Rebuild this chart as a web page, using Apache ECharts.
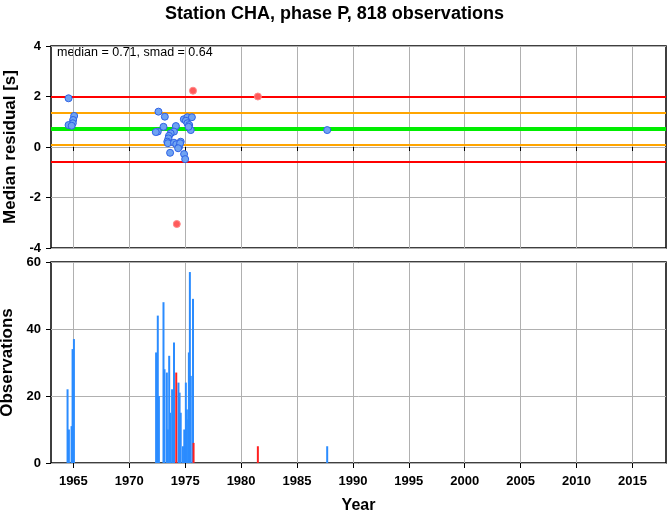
<!DOCTYPE html>
<html>
<head>
<meta charset="utf-8">
<script src="https://cdn.jsdelivr.net/npm/echarts@6/dist/echarts.min.js"></script>
<style>html,body{margin:0;padding:0;background:#fff}#c{width:669px;height:511px}</style>
</head>
<body>
<div id="c"></div>
<script>
var titleText = 'Station CHA, phase P, 818 observations';
var statsText = 'median = 0.71, smad = 0.64';
var xTicks = [1965,1970,1975,1980,1985,1990,1995,2000,2005,2010,2015];
var xMin = 1963, xMax = 2018;
var median = 0.71;
var smadLines = [1.35, 0.07];
var twoSmadLines = [1.99, -0.57];

var bluePoints = [
  [1964.57,1.93],[1965.07,1.23],[1964.98,1.07],[1964.95,0.94],[1964.57,0.87],[1964.85,0.84],
  [1972.61,1.40],[1973.18,1.20],[1972.55,0.61],[1972.37,0.59],[1973.06,0.80],[1974.17,0.83],
  [1974.0,0.61],[1973.7,0.54],[1973.55,0.44],[1973.5,0.34],[1973.4,0.21],[1973.45,0.15],
  [1974.0,0.17],[1974.2,0.11],[1974.46,0.01],[1974.6,0.21],[1974.55,0.15],[1974.37,-0.05],
  [1973.65,-0.23],[1974.9,-0.28],[1975.0,-0.48],[1974.88,1.10],[1975.2,1.18],[1975.6,1.18],
  [1975.06,1.04],[1975.2,0.94],[1975.36,0.87],[1975.5,0.67],[1975.3,0.80],[1987.7,0.67]
];
var redPoints = [[1975.7,2.23],[1974.25,-3.05],[1981.5,2.0]];

var blueBars = [
  [1964.48,22],[1964.6,10],[1964.84,11],[1964.93,34],[1965.05,37],
  [1972.4,33],[1972.55,44],[1972.65,20],[1973.06,48],[1973.15,28],[1973.36,27],[1973.45,10],
  [1973.57,32],[1973.65,15],[1973.83,22],[1974.0,36],[1974.4,24],[1974.5,21],[1974.6,15],
  [1974.8,5],[1974.92,10],[1975.06,24],[1975.15,16],[1975.27,13],[1975.33,33],[1975.42,57],
  [1975.5,26],[1975.7,49],[1987.7,5]
];
var redBars = [[1974.2,27],[1975.75,6],[1981.5,5]];

var chart = echarts.init(document.getElementById('c'));
var font = 'Liberation Sans, Arial, sans-serif';
function hline(v, color, w){ return {yAxis: v, lineStyle:{color:color, width:w, type:'solid'}}; }
function plain(v){ return String(v); }

var option = {
  animation: false,
  backgroundColor: '#fff',
  title: {text: titleText, left: 'center', top: 0,
    textStyle:{fontFamily: font, fontSize: 18, fontWeight:'bold', color:'#000'}},
  graphic: [{type:'text', left: 57, top: 46, style:{text: statsText, font: '12.5px Liberation Sans, Arial', fill:'#000'}}],
  grid: [
    {left: 51, width: 615, top: 46, height: 202, show: true, borderColor:'#000', borderWidth:1.5, backgroundColor:'transparent', outerBoundsMode:'none', containLabel:false},
    {left: 51, width: 615, top: 262, height: 201, show: true, borderColor:'#000', borderWidth:1.5, backgroundColor:'transparent', outerBoundsMode:'none', containLabel:false}
  ],
  xAxis: [
    {type:'value', gridIndex:0, min:xMin, max:xMax,
     axisLine:{show:false}, axisTick:{show:true, customValues: xTicks, length:4, lineStyle:{color:'#000'}},
     axisLabel:{show:false, customValues: xTicks, formatter: plain},
     splitLine:{show:true, lineStyle:{color:'#b0b0b0', width:1}}},
    {type:'value', gridIndex:1, min:xMin, max:xMax,
     name:'Year', nameLocation:'middle', nameGap: 35,
     nameTextStyle:{fontFamily:font, fontSize:16, fontWeight:'bold', color:'#000'},
     axisLine:{show:false}, axisTick:{show:true, customValues: xTicks, length:5, lineStyle:{color:'#000'}},
     axisLabel:{show:true, customValues: xTicks, formatter: plain, fontFamily:font, fontSize:13, fontWeight:'bold', color:'#000', margin:12},
     splitLine:{show:true, lineStyle:{color:'#b0b0b0', width:1}}}
  ],
  yAxis: [
    {type:'value', gridIndex:0, min:-4, max:4, interval:2,
     name:'Median residual [s]', nameLocation:'middle', nameGap: 28,
     nameTextStyle:{fontFamily:font, fontSize:17, fontWeight:'bold', color:'#000'},
     axisLine:{show:false}, axisTick:{show:true, length:5, lineStyle:{color:'#000'}},
     axisLabel:{fontFamily:font, fontSize:13, fontWeight:'bold', color:'#000', margin:10},
     splitLine:{show:true, lineStyle:{color:'#b0b0b0', width:1}}},
    {type:'value', gridIndex:1, min:0, max:60, interval:20,
     name:'Observations', nameLocation:'middle', nameGap: 28,
     nameTextStyle:{fontFamily:font, fontSize:17, fontWeight:'bold', color:'#000'},
     axisLine:{show:false}, axisTick:{show:true, length:5, lineStyle:{color:'#000'}},
     axisLabel:{fontFamily:font, fontSize:13, fontWeight:'bold', color:'#000', margin:10},
     splitLine:{show:true, lineStyle:{color:'#b0b0b0', width:1}}}
  ],
  series: [
    {type:'line', xAxisIndex:0, yAxisIndex:0, data:[], z:1, silent:true,
     markLine:{silent:true, z:1, symbol:'none', label:{show:false}, animation:false,
       data:[hline(twoSmadLines[0],'#ff0000',2), hline(twoSmadLines[1],'#ff0000',2),
             hline(smadLines[0],'#ffa500',2), hline(smadLines[1],'#ffa500',2),
             hline(median,'#00ee00',4)]}},
    {type:'scatter', xAxisIndex:0, yAxisIndex:0, data: bluePoints, symbolSize:7, z:6,
     itemStyle:{color:'#6fa3f2', borderColor:'#2f62e6', borderWidth:1, opacity:1}},
    {type:'scatter', xAxisIndex:0, yAxisIndex:0, data: redPoints, symbolSize:7, z:6,
     itemStyle:{color:'#ff5a5a', borderColor:'#ff8a8a', borderWidth:1, opacity:1}},
    {type:'bar', xAxisIndex:1, yAxisIndex:1, data: blueBars, barWidth:2, barGap:'-100%', z:2,
     itemStyle:{color:'#2b8cff'}},
    {type:'bar', xAxisIndex:1, yAxisIndex:1, data: redBars, barWidth:2, barGap:'-100%', z:3,
     itemStyle:{color:'#ff2020'}}
  ]
};
chart.setOption(option);
</script>
</body>
</html>
